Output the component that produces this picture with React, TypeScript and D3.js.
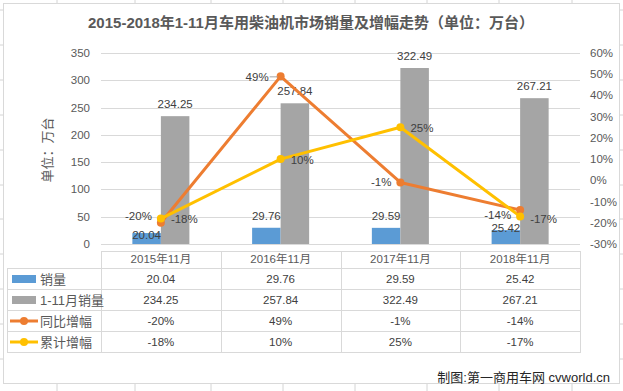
import React from 'react';
import * as d3 from 'd3';

const categories = ['2015年11月', '2016年11月', '2017年11月', '2018年11月'];
const monthSales = [20.04, 29.76, 29.59, 25.42];
const ytdSales = [234.25, 257.84, 322.49, 267.21];
const yoyGrowth = [-20, 49, -1, -14];
const ytdGrowth = [-18, 10, 25, -17];
const leftTicks = [0, 50, 100, 150, 200, 250, 300, 350];
const rightTicks = [-30, -20, -10, 0, 10, 20, 30, 40, 50, 60];

// manual label nudges, as in the original chart
const blueLabelDy = [2, -12, -12, -2];
const orangeLabelDy = [-7, 1, 0, 5];
const yellowLabelDy = [0, 1, 1, 3];

const TITLE = '2015-2018年1-11月车用柴油机市场销量及增幅走势（单位：万台）';
const FONT = '"Liberation Sans", "Noto Sans CJK SC", sans-serif';

const BLUE = '#5b9bd5';
const GRAY = '#a5a5a5';
const ORANGE = '#ed7d31';
const YELLOW = '#ffc000';
const GRID = '#d9d9d9';

const W = 623;
const H = 391;

export default function App() {
  const x = d3.scaleBand<string>().domain(categories).range([101, 580]);
  const bw = x.bandwidth();
  const inner = d3.scaleBand<string>().domain(['m', 'y']).range([0, bw]).paddingInner(0).paddingOuter(1.1);
  const yL = d3.scaleLinear().domain([0, 350]).range([244, 53]);
  const yR = d3.scaleLinear().domain([-30, 60]).range([244, 53]);
  const cx = (c: string) => (x(c) ?? 0) + bw / 2;

  const lineGen = d3.line<number>().x((_, i) => cx(categories[i])).y(d => yR(d));

  const sheetCols = [57, 135, 211, 283, 355, 427, 499, 572];
  const sheetRows = [10, 45, 80, 115, 150, 185, 219, 254, 289, 324, 359];

  const rowTop = 268;
  const rowH = 21;
  const tableRows = [
    { name: '销量', vals: monthSales.map(v => v.toFixed(2)), kind: 'bar', color: BLUE },
    { name: '1-11月销量', vals: ytdSales.map(v => v.toFixed(2)), kind: 'bar', color: GRAY },
    { name: '同比增幅', vals: yoyGrowth.map(v => `${v}%`), kind: 'line', color: ORANGE },
    { name: '累计增幅', vals: ytdGrowth.map(v => `${v}%`), kind: 'line', color: YELLOW },
  ];

  return (
    <svg width={W} height={H} style={{ position: 'absolute', left: 0, top: 0, background: '#fff' }} fontFamily={FONT}>
      {/* spreadsheet grid behind the chart */}
      {sheetCols.map(c => <line key={'c' + c} x1={c} x2={c} y1={0} y2={H} stroke="#d4d4d4" />)}
      {sheetRows.map(r => <line key={'r' + r} x1={0} x2={W} y1={r} y2={r} stroke="#d4d4d4" />)}
      <rect x={3.5} y={3.5} width={616} height={380} fill="#fff" stroke={GRID} />

      <text x={311} y={28} textAnchor="middle" fontSize={15} fontWeight="bold" fill="#595959">{TITLE}</text>

      {/* gridlines + left axis */}
      {leftTicks.map(t => (
        <g key={'l' + t}>
          <line x1={101} x2={580} y1={Math.round(yL(t)) + 0.5} y2={Math.round(yL(t)) + 0.5} stroke={GRID} />
          <text x={90} y={yL(t)} dy="0.35em" textAnchor="end" fontSize={11.5} fill="#595959">{t}</text>
        </g>
      ))}
      {rightTicks.map(t => (
        <text key={'r' + t} x={590} y={yR(t)} dy="0.35em" fontSize={11.5} fill="#595959">{t}%</text>
      ))}
      <text transform="translate(52,150) rotate(-90)" textAnchor="middle" fontSize={13} fill="#595959">单位：万台</text>

      {/* bars */}
      {categories.map((c, i) => {
        const x0 = x(c) ?? 0;
        return (
          <g key={'b' + c}>
            <rect x={x0 + (inner('m') ?? 0)} width={inner.bandwidth()} y={yL(monthSales[i])} height={yL(0) - yL(monthSales[i])} fill={BLUE} />
            <rect x={x0 + (inner('y') ?? 0)} width={inner.bandwidth()} y={yL(ytdSales[i])} height={yL(0) - yL(ytdSales[i])} fill={GRAY} />
            <text x={x0 + (inner('m') ?? 0) + inner.bandwidth() / 2} y={yL(monthSales[i]) + blueLabelDy[i]} dy="0.35em" textAnchor="middle" fontSize={11.5} fill="#404040">{monthSales[i].toFixed(2)}</text>
            <text x={x0 + (inner('y') ?? 0) + inner.bandwidth() / 2} y={yL(ytdSales[i]) - 12} dy="0.35em" textAnchor="middle" fontSize={11.5} fill="#404040">{ytdSales[i].toFixed(2)}</text>
          </g>
        );
      })}

      {/* lines */}
      <path d={lineGen(yoyGrowth) ?? ''} fill="none" stroke={ORANGE} strokeWidth={3} strokeLinejoin="round" />
      <path d={lineGen(ytdGrowth) ?? ''} fill="none" stroke={YELLOW} strokeWidth={3} strokeLinejoin="round" />
      {yoyGrowth.map((v, i) => <circle key={'o' + i} cx={cx(categories[i])} cy={yR(v)} r={4} fill={ORANGE} />)}
      {ytdGrowth.map((v, i) => <circle key={'y' + i} cx={cx(categories[i])} cy={yR(v)} r={4} fill={YELLOW} />)}
      {yoyGrowth.map((v, i) => {
        const px = cx(categories[i]);
        const leader = i === 1;
        return (
          <g key={'ol' + i}>
            {leader && <line x1={px - 11} x2={px - 3} y1={yR(v) + 0.5} y2={yR(v) + 0.5} stroke="#a6a6a6" />}
            <text x={px - (leader ? 12 : 9)} y={yR(v) + orangeLabelDy[i]} dy="0.35em" textAnchor="end" fontSize={11.5} fill="#404040">{v}%</text>
          </g>
        );
      })}
      {ytdGrowth.map((v, i) => (
        <text key={'yl' + i} x={cx(categories[i]) + 10} y={yR(v) + yellowLabelDy[i]} dy="0.35em" fontSize={11.5} fill="#404040">{v}%</text>
      ))}

      {/* data table */}
      <g stroke={GRID} fill="none">
        <line x1={101} x2={580} y1={251.5} y2={251.5} />
        <line x1={7.5} x2={580} y1={rowTop + 0.5} y2={rowTop + 0.5} />
        {tableRows.map((_, r) => (
          <line key={'tr' + r} x1={7.5} x2={580} y1={rowTop + (r + 1) * rowH + 0.5} y2={rowTop + (r + 1) * rowH + 0.5} />
        ))}
        <line x1={7.5} x2={7.5} y1={rowTop} y2={rowTop + 4 * rowH + 1} />
        {[...categories.map(c => x(c) ?? 0), 580].map((bx, k) => (
          <line key={'tv' + k} x1={Math.round(bx) + 0.5} x2={Math.round(bx) + 0.5} y1={251} y2={rowTop + 4 * rowH + 1} />
        ))}
      </g>
      {categories.map(c => (
        <text key={'h' + c} x={cx(c)} y={259} dy="0.35em" textAnchor="middle" fontSize={11.5} fill="#595959">{c}</text>
      ))}
      {tableRows.map((row, r) => {
        const yc = rowTop + r * rowH + rowH / 2 + 0.5;
        return (
          <g key={'row' + r}>
            {row.kind === 'bar' ? (
              <rect x={12} y={yc - 4} width={24} height={8} fill={row.color} />
            ) : (
              <g>
                <line x1={10} x2={38} y1={yc} y2={yc} stroke={row.color} strokeWidth={3} />
                <circle cx={24} cy={yc} r={4} fill={row.color} />
              </g>
            )}
            <text x={40} y={yc} dy="0.35em" fontSize={13} fill="#595959">{row.name}</text>
            {row.vals.map((v, i) => (
              <text key={i} x={cx(categories[i])} y={yc} dy="0.35em" textAnchor="middle" fontSize={11.5} fill="#404040">{v}</text>
            ))}
          </g>
        );
      })}

      <text x={610} y={377} dy="0.35em" textAnchor="end" fontSize={13} fill="#262626">制图:第一商用车网 cvworld.cn</text>
    </svg>
  );
}
